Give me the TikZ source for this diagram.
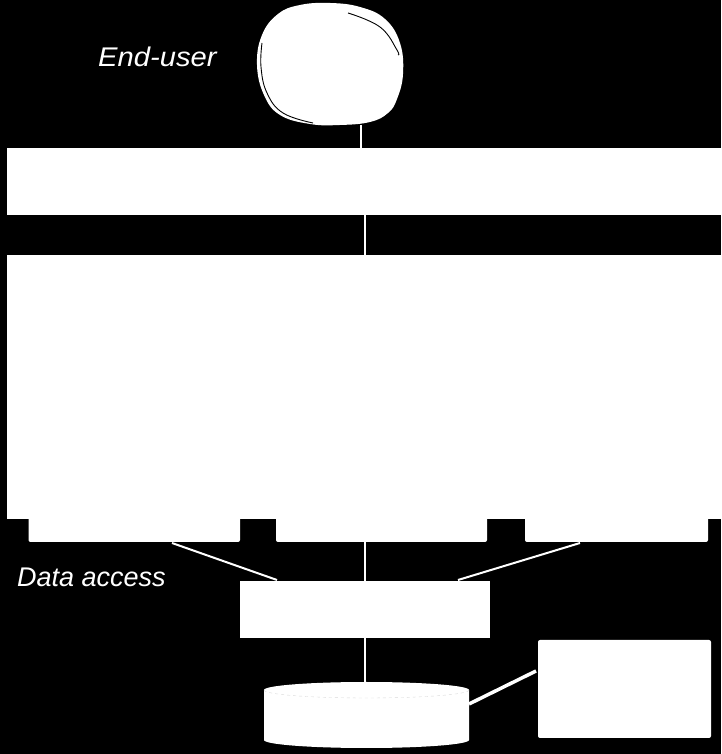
\documentclass[tikz,border=0pt]{standalone}
\usepackage{fontspec}
\setmainfont{Liberation Sans}
\begin{document}
\begin{tikzpicture}[x=1pt,y=1pt,
  whitebox/.style={fill=white,draw=none,inner sep=0pt,outer sep=0pt},
  link/.style={draw=white,line width=2pt},
  label/.style={text=white,font=\fontsize{27}{30}\selectfont\itshape,inner sep=0pt,anchor=base west}]
\fill[black] (0,0) rectangle (721,754);
\useasboundingbox (0,0) rectangle (721,754);
% head
\fill[white] plot[smooth cycle,tension=0.7] coordinates {(300,749) (330,751) (360,747) (385,735) (400,711) (403,680) (397,655) (388,641) (370,632) (340,629) (310,630) (280,639) (264,659) (257,689) (262,719) (278,740)};
\draw[black,line width=0.9pt] plot[smooth,tension=0.7] coordinates {(262,711) (261,687) (267,661) (283,641) (313,631)};
\draw[black,line width=0.9pt] plot[smooth,tension=0.7] coordinates {(348,741) (380,727) (397,704) (398,699)};
\coordinate (head) at (361,629);
% labels
\node[label,xscale=1.08] (enduser) at (98,687) {End-user};
\node[label] (dataaccess) at (17,167) {Data access};
% top bar
\node[whitebox,minimum width=715pt,minimum height=67pt] (topbar) at (364.5,572.5) {};
% small boxes (behind big box)
\fill[white,rounded corners=2pt] (28.5,212) rectangle (240,250);
\fill[white,rounded corners=2pt] (276,212) rectangle (487,250);
\fill[white,rounded corners=2pt] (525,212) rectangle (708,250);
\coordinate (s1) at (134.25,212);
\coordinate (s2) at (365,212);
\coordinate (s3) at (616.5,212);
% big box
\node[whitebox,minimum width=715pt,minimum height=264pt] (bigbox) at (364.5,367) {};
% middle box
\node[whitebox,minimum width=250pt,minimum height=57pt] (midbox) at (365,144.5) {};
% cylinder
\fill[white] (264,64) -- (264,14) arc[start angle=180,end angle=360,x radius=102.5,y radius=8] -- (469,64) arc[start angle=0,end angle=180,x radius=102.5,y radius=8] -- cycle;
\draw[gray!30,dashed,line width=0.4pt] (264,64) arc[start angle=180,end angle=360,x radius=102.5,y radius=8];
\coordinate (cyltop) at (365,72);
\coordinate (cylside) at (469,50);
% right box
\node[whitebox,rounded corners=2pt,minimum width=173pt,minimum height=98pt] (rightbox) at (624.5,65) {};
% connectors
\draw[link] (head) -- (361,606);
\draw[link] (365,539) -- (365,499);
\draw[link] (172,211) -- (277,174);
\draw[link] (s2) -- (365,173);
\draw[link] (580,211) -- (458,174);
\draw[link] (midbox.south) -- (cyltop);
\draw[draw=white,line width=3.5pt] (cylside) -- (536,83);
\end{tikzpicture}
\end{document}
